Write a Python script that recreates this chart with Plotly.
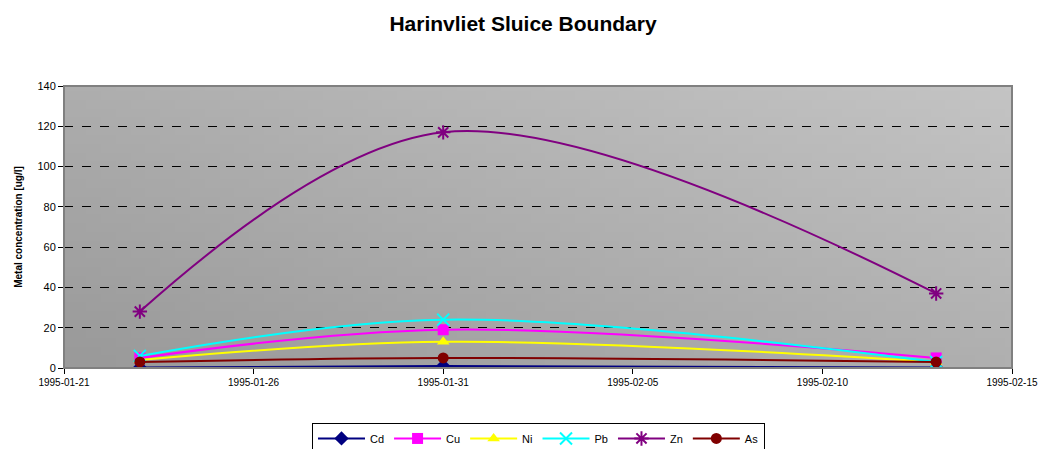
import base64
import struct
import zlib

import plotly.graph_objects as go

# ----------------------------------------------------------------------------------------------------------------------
# Data
# ----------------------------------------------------------------------------------------------------------------------
dates = ['1995-01-23', '1995-01-31', '1995-02-13']
cd = [0.2, 1.0, 0.2]
cu = [5, 19, 5]
ni = [4, 13, 3]
pb = [6, 24, 3]
zn = [28, 117, 37]
as_ = [3, 5, 3]

series = [
    ('Cd', cd, '#000080', 'diamond'),
    ('Cu', cu, '#FF00FF', 'square'),
    ('Ni', ni, '#FFFF00', 'triangle-up'),
    ('Pb', pb, '#00FFFF', 'x-thin-open'),
    ('Zn', zn, '#800080', 'asterisk-open'),
    ('As', as_, '#800000', 'circle'),
]


# ----------------------------------------------------------------------------------------------------------------------
# Gradient background (Excel style) as a small PNG
# ----------------------------------------------------------------------------------------------------------------------
def gradient_png(w=64, h=32):
    raw = b''
    for j in range(h):
        fy = 1 - j / (h - 1)  # 1 at top
        row = b'\x00'
        for i in range(w):
            fx = i / (w - 1)
            c = int(0x9a + 0x16 * fx + 0x14 * fy)
            row += bytes([c, c, c])
        raw += row

    def chunk(tag, data):
        return struct.pack('>I', len(data)) + tag + data + struct.pack('>I', zlib.crc32(tag + data) & 0xffffffff)

    png = b'\x89PNG\r\n\x1a\n' + chunk(b'IHDR', struct.pack('>IIBBBBB', w, h, 8, 2, 0, 0, 0)) \
        + chunk(b'IDAT', zlib.compress(raw)) + chunk(b'IEND', b'')
    return 'data:image/png;base64,' + base64.b64encode(png).decode()


# ----------------------------------------------------------------------------------------------------------------------
# Figure
# ----------------------------------------------------------------------------------------------------------------------
fig = go.Figure()

for name, vals, color, symbol in series:
    thin = symbol.endswith('open')
    fig.add_trace(go.Scatter(x=dates, y=vals, name=name, mode='lines+markers',
                             line=dict(color=color, width=2, shape='spline', smoothing=1.0),
                             marker=dict(symbol=symbol, size=11 if not thin else 12, color=color,
                                         line=dict(color=color, width=2 if thin else 0))))

fig.add_layout_image(dict(source=gradient_png(), xref='x domain', yref='y domain', x=0, y=1,
                          sizex=1, sizey=1, sizing='stretch', xanchor='left', yanchor='top',
                          layer='below'))

fig.update_layout(
    width=1046, height=449,
    margin=dict(l=64, r=34, t=86, b=81),
    paper_bgcolor='white', plot_bgcolor='rgba(0,0,0,0)',
    font=dict(family='Liberation Sans, Arial', size=11, color='black'),
    title=dict(text='<b>Harinvliet Sluice Boundary</b>', x=0.5, xanchor='center', y=0.947, yanchor='middle',
               font=dict(size=21)),
    shapes=[dict(type='rect', xref='x domain', yref='y domain', layer='above',
                 x0=0, x1=1, y0=0, y1=1, line=dict(color='#808080', width=2))],
    legend=dict(orientation='h', x=0.2616, xanchor='left', yref='container', y=0.058, yanchor='top',
                bordercolor='black', borderwidth=1, font=dict(size=11), itemwidth=47),
)

fig.update_xaxes(type='date', range=['1995-01-21', '1995-02-15'], tick0='1995-01-21', dtick=5 * 86400000,
                 tickformat='%Y-%m-%d', showgrid=False, showline=True, linecolor='black', linewidth=1,
                 ticks='outside', ticklen=5, tickcolor='black', zeroline=False, tickfont=dict(size=10),
                 automargin=False)
fig.update_yaxes(range=[0, 140], dtick=20, showgrid=True, gridcolor='black', griddash='dash', gridwidth=1,
                 showline=True, linecolor='black', linewidth=1, ticks='outside', ticklen=5, tickcolor='black',
                 zeroline=False, tickfont=dict(size=11), automargin=False,
                 title=dict(text='<b>Metal concentration [ug/l]</b>', font=dict(size=10), standoff=12))

# page margin off so the figure fills the window
fig.write_html('out.html', config={'displayModeBar': False},
               post_script="document.body.style.margin='0';")
